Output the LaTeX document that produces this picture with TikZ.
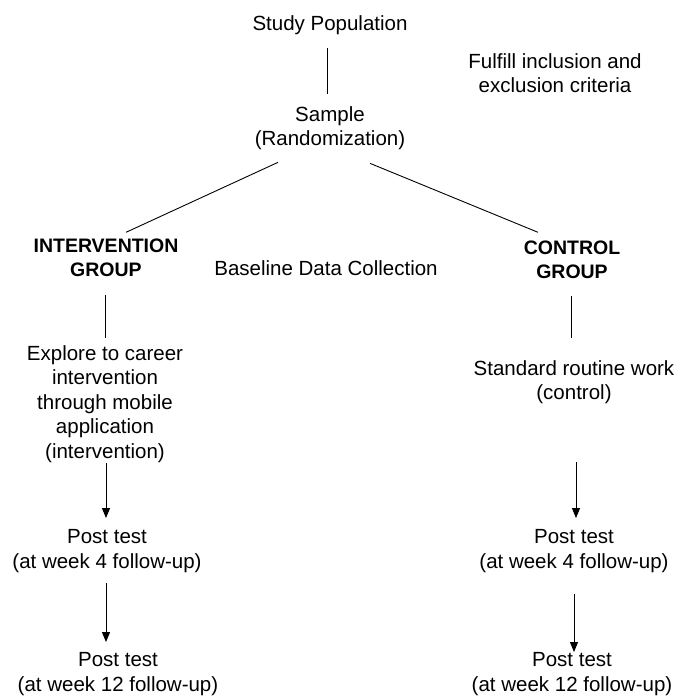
\documentclass[tikz,border=0pt]{standalone}
\usepackage{fontspec}
\setmainfont{Liberation Sans}
\usetikzlibrary{arrows.meta}

\begin{document}
\begin{tikzpicture}[x=1pt,y=-1pt,
        txt/.style={align=center,font=\fontsize{20.5}{24.5}\selectfont},
        grp/.style={align=center,font=\fontsize{19.5}{24.5}\selectfont\bfseries},
        link/.style={line width=0.9pt},
        flow/.style={line width=0.9pt,-{Triangle[length=10pt,width=8pt]}}]
        \useasboundingbox (0,0) rectangle (676,697);
        \node[txt] (pop) at (330,25) {Study Population};
        \node[txt] (crit) at (555,73) {Fulfill inclusion and\\exclusion criteria};
        \node[txt] (smp) at (330,128) {Sample\\(Randomization)};
        \node[grp] (ig) at (106,258) {INTERVENTION\\GROUP};
        \node[txt] (base) at (326,268) {Baseline Data Collection};
        \node[grp] (cg) at (572,260) {CONTROL\\GROUP};
        \node[txt] (expl) at (105,404) {Explore to career\\intervention\\through mobile\\application\\(intervention)};
        \node[txt] (std) at (574,382) {Standard routine work\\(control)};
        \node[txt] (ip4) at (107,551) {Post test\\(at week 4 follow-up)};
        \node[txt] (cp4) at (574,551) {Post test\\(at week 4 follow-up)};
        \node[txt] (ip12) at (118,674) {Post test\\(at week 12 follow-up)};
        \node[txt] (cp12) at (572,674) {Post test\\(at week 12 follow-up)};
        \draw[link,shorten <=10pt,shorten >=9pt] ([xshift=-3pt]pop.south) -- ([xshift=-3pt]smp.north);
        \draw[link] ([shift={(-52pt,-9pt)}]smp.south) -- ([shift={(20pt,3pt)}]ig.north);
        \draw[link] ([shift={(40pt,-10pt)}]smp.south) -- ([shift={(-34pt,5pt)}]cg.north);
        \draw[link,shorten <=14pt,shorten >=4pt] (ig.south -| expl.north) -- (expl.north);
        \draw[link,shorten <=13pt,shorten >=19pt] ([xshift=-1pt]cg.south) -- ([xshift=-3pt]std.north);
        \draw[flow,shorten <=-3pt,shorten >=8pt] ([xshift=1pt]expl.south) -- ([xshift=1pt]ip4.north -| expl.south);
        \draw[flow,shorten <=55pt,shorten >=8pt] ([xshift=2pt]std.south) -- ([xshift=2pt]cp4.north);
        \draw[flow,shorten <=7pt,shorten >=7pt] ([xshift=-1pt]ip4.south) -- ([xshift=-1pt]ip12.north -| ip4.south);
        \draw[flow,shorten <=18pt,shorten >=-3pt] (cp4.south) -- (cp4.south |- cp12.north);
\end{tikzpicture}
\end{document}
